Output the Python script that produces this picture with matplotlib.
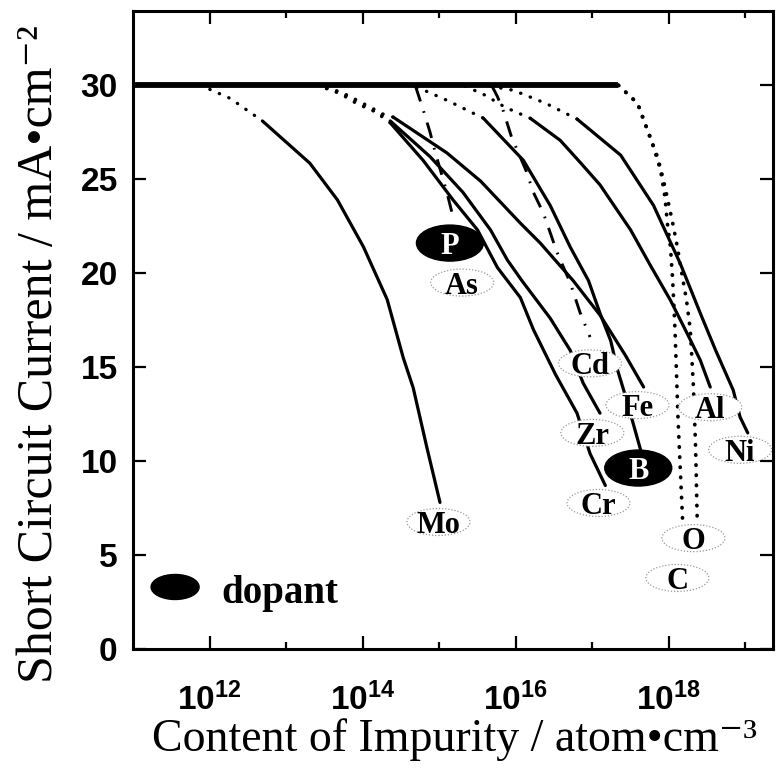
import numpy as np
import matplotlib
matplotlib.use("Agg")
import matplotlib.pyplot as plt
from matplotlib.patches import Ellipse
from matplotlib.ticker import FixedLocator, FuncFormatter, NullFormatter

# Short-circuit current vs. impurity content (log10 of atom/cm3 -> mA/cm2)
plateau_logc = [11.0, 17.34]
plateau_jsc = [30.0, 30.0]

mo_logc = [11.88, 12.27, 12.69, 13.31, 13.67, 14.01, 14.32, 14.53, 14.66, 14.84, 15.01]
mo_jsc = [30.0, 29.3, 28.1, 25.85, 23.9, 21.4, 18.6, 15.5, 13.9, 10.7, 7.8]

cr_logc = [13.40, 13.71, 13.93, 14.16, 14.36, 14.79, 15.18, 15.50, 15.76, 16.06, 16.23, 16.52, 16.80, 16.97, 17.17]
cr_jsc = [30.0, 29.6, 29.1, 28.6, 28.0, 26.0, 23.9, 22.3, 20.3, 18.7, 17.0, 14.6, 12.55, 10.4, 8.7]

zr_logc = [13.40, 13.71, 13.93, 14.16, 14.36, 14.88, 15.31, 15.67, 15.89, 16.08, 16.45, 16.71, 16.88, 17.10]
zr_jsc = [30.0, 29.65, 29.2, 28.7, 28.1, 26.2, 24.3, 22.3, 20.7, 19.6, 17.6, 15.9, 14.15, 12.55]

fe_logc = [13.40, 13.71, 13.93, 14.16, 14.40, 15.10, 15.54, 16.06, 16.32, 16.75, 17.10, 17.43, 17.67]
fe_jsc = [30.0, 29.55, 29.0, 28.6, 28.3, 26.4, 24.9, 22.66, 21.6, 19.6, 17.77, 15.64, 13.94]

b_logc = [14.71, 15.10, 15.575, 16.10, 16.45, 16.71, 16.95, 17.10, 17.24, 17.33, 17.43, 17.52, 17.63]
b_jsc = [29.9, 29.2, 28.25, 26.0, 23.6, 21.4, 19.6, 17.87, 16.4, 14.84, 13.5, 12.2, 10.6]

p_logc = [14.69, 14.79, 14.88, 14.95, 15.10, 15.18]
p_jsc = [29.95, 28.7, 27.5, 26.4, 24.3, 23.0]

cd_logc = [15.69, 15.76, 15.84, 15.94, 16.14, 16.23, 16.36, 16.54, 16.71, 16.84, 16.97]
cd_jsc = [29.95, 29.4, 28.6, 27.3, 25.4, 24.3, 23.2, 21.1, 19.5, 17.9, 16.6]

al_logc = [15.34, 15.60, 15.86, 16.19, 16.58, 16.84, 17.10, 17.50, 17.76, 18.02, 18.25, 18.41, 18.54]
al_jsc = [29.95, 29.47, 28.83, 28.24, 27.07, 25.9, 24.7, 22.3, 20.4, 18.56, 16.7, 15.37, 13.94]

ni_logc = [15.67, 15.97, 16.39, 16.80, 17.37, 17.80, 18.15, 18.41, 18.61, 18.84, 18.93, 19.03]
ni_jsc = [29.95, 29.73, 29.04, 28.2, 26.28, 23.6, 20.5, 17.87, 15.9, 13.78, 12.34, 11.5]

c_logc = [17.34, 17.59, 17.72, 17.80, 17.89, 17.95, 17.98, 18.02, 18.05, 18.08, 18.12, 18.18]
c_jsc = [30.0, 29.04, 27.6, 26.7, 25.5, 24.0, 22.66, 21.4, 19.6, 16.97, 12.2, 6.76]

o_logc = [17.34, 17.59, 17.76, 17.85, 17.92, 17.98, 18.05, 18.11, 18.16, 18.23, 18.28, 18.32, 18.35, 18.37]
o_jsc = [30.0, 29.04, 27.2, 26.2, 25.1, 24.0, 22.66, 21.4, 20.2, 18.56, 16.97, 14.0, 10.6, 6.86]

y_ticks = [0, 5, 10, 15, 20, 25, 30]
x_major_exp = [12, 14, 16, 18]
x_minor_exp = [13, 15, 17, 19]

# where each element tag sits (log10 conc, jsc), and whether it is a dopant
tags = [
    ("Mo", 14.99, 6.76, False),
    ("P", 15.14, 21.6, True),
    ("As", 15.30, 19.5, False),
    ("Cd", 16.97, 15.2, False),
    ("Fe", 17.59, 12.98, False),
    ("Zr", 17.00, 11.5, False),
    ("B", 17.60, 9.63, True),
    ("Cr", 17.08, 7.77, False),
    ("Al", 18.54, 12.87, False),
    ("Ni", 18.93, 10.6, False),
    ("O", 18.32, 5.9, False),
    ("C", 18.11, 3.78, False),
]

# line styles: (curve, number of leading dotted points, kind)
curves = [
    (mo_logc, mo_jsc, 3, "solid"),
    (cr_logc, cr_jsc, 5, "solid"),
    (zr_logc, zr_jsc, 5, "solid"),
    (fe_logc, fe_jsc, 5, "solid"),
    (b_logc, b_jsc, 3, "solid"),
    (al_logc, al_jsc, 4, "solid"),
    (ni_logc, ni_jsc, 4, "solid"),
    (p_logc, p_jsc, 0, "dashdot"),
    (cd_logc, cd_jsc, 0, "dashdot"),
    (c_logc, c_jsc, 0, "dotted"),
    (o_logc, o_jsc, 0, "dotted"),
]

plt.rcParams["mathtext.fontset"] = "custom"
plt.rcParams["mathtext.rm"] = "Liberation Sans:bold"
plt.rcParams["mathtext.bf"] = "Liberation Sans:bold"

W, H = 776, 773
fig = plt.figure(figsize=(W / 100, H / 100), dpi=100)
ax_l, ax_b, ax_w, ax_h = 133, 124, 640, 638
ax = fig.add_axes([ax_l / W, ax_b / H, ax_w / W, ax_h / H])
ax.set_xscale("log")
ax.set_xlim(1e11, 10 ** 19.36)
ax.set_ylim(0, 33.95)

DOT = (0, (0.1, 3.0))
DASHDOT = (0, (5.5, 3.5, 0.6, 3.5))

ax.plot(10 ** np.array(plateau_logc), plateau_jsc, color="k", lw=4.2,
        solid_capstyle="butt", zorder=3)

for logc, jsc, n_dot, kind in curves:
    x = 10 ** np.array(logc)
    y = np.array(jsc)
    if kind == "dashdot":
        ax.plot(x, y, color="k", lw=2.1, ls=DASHDOT, zorder=3)
    elif kind == "dotted":
        ax.plot(x, y, color="k", lw=2.7, ls=(0, (0.1, 2.6)), dash_capstyle="round", zorder=3)
    else:
        if n_dot:
            ax.plot(x[:n_dot], y[:n_dot], color="k", lw=2.4, ls=DOT,
                    dash_capstyle="round", zorder=3)
        ax.plot(x[max(n_dot - 1, 0):], y[max(n_dot - 1, 0):], color="k", lw=2.3,
                solid_capstyle="round", zorder=3)

to_axes = ax.transScale + ax.transLimits


def tag(name, lg, jsc, dopant, w=63, h=27, size=22):
    cx, cy = to_axes.transform((10 ** lg, jsc))
    if dopant:
        w, h = 67, 36
        ax.add_patch(Ellipse((cx, cy), w / ax_w, h / ax_h, transform=ax.transAxes,
                             fc="black", ec="black", zorder=5))
        col = "white"
    else:
        ax.add_patch(Ellipse((cx, cy), w / ax_w, h / ax_h, transform=ax.transAxes,
                             fc="white", ec="#9a9a9a", ls=(0, (1, 1.5)), lw=0.9, zorder=5))
        col = "black"
    ax.text(cx, cy, name, transform=ax.transAxes, ha="center", va="center_baseline",
            fontsize=size, fontweight="bold", family="Liberation Serif", color=col,
            zorder=6)


for name, lg, jsc, dopant in tags:
    tag(name, lg, jsc, dopant)

# legend marker for dopants
lx, ly = to_axes.transform((10 ** 11.55, 3.3))
ax.add_patch(Ellipse((lx, ly), 48 / ax_w, 25 / ax_h, transform=ax.transAxes,
                     fc="black", ec="black", zorder=5))
ax.text(10 ** 12.16, 2.45, "dopant", ha="left", va="baseline", fontsize=28,
        fontweight="bold", family="Liberation Serif", zorder=6)

# axes, ticks and labels
for sp in ax.spines.values():
    sp.set_linewidth(2.2)

ax.xaxis.set_major_locator(FixedLocator([10.0 ** e for e in x_major_exp]))
ax.xaxis.set_minor_locator(FixedLocator([10.0 ** e for e in x_minor_exp]))
ax.xaxis.set_major_formatter(FuncFormatter(
    lambda v, _: r"$\mathbf{10^{%d}}$" % round(np.log10(v))))
ax.xaxis.set_minor_formatter(NullFormatter())
ax.set_yticks(y_ticks)
ax.set_yticklabels([str(v) for v in y_ticks], family="Liberation Sans",
                   fontweight="bold", fontsize=24)

ax.tick_params(which="both", direction="in", top=True, right=True, width=1.6)
ax.tick_params(which="major", length=9.5)
ax.tick_params(which="minor", length=5)
ax.tick_params(axis="x", which="major", labelsize=24, pad=24)
ax.tick_params(axis="y", which="major", pad=11)

serif = ["Liberation Serif", "DejaVu Serif"]
ax.set_xlabel("Content of Impurity / atom\u2022cm\u207b\u00b3", family=serif, fontsize=33)
ax.set_ylabel("Short Circuit Current / mA\u2022cm\u207b\u00b2", family=serif, fontsize=36)
ax.xaxis.set_label_coords(0.503, -0.108)
ax.yaxis.set_label_coords(-0.11, 0.462)

fig.savefig("out.png", dpi=100)
